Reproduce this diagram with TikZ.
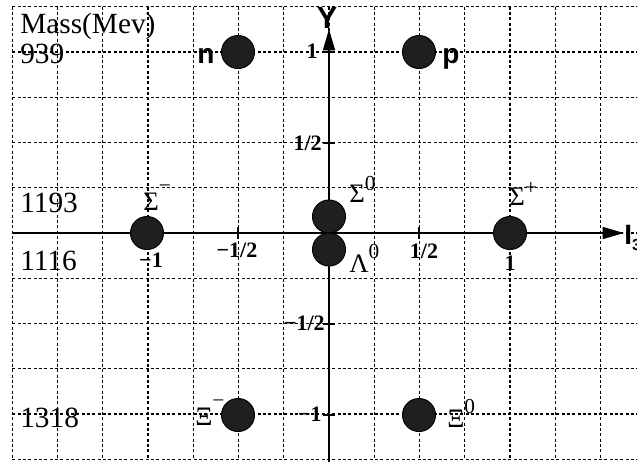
\documentclass[tikz,border=0pt]{standalone}
\usepackage{fontspec}
\setmainfont{Liberation Serif}
\newfontfamily\hsans{Liberation Sans}
\usetikzlibrary{arrows.meta}
\begin{document}
\begin{tikzpicture}[x=0.75pt,y=-0.75pt,
  gridline/.style={dash pattern=on 2.2pt off 1.8pt, line width=0.85pt, black},
  axis/.style={line width=1.1pt, -{Triangle[length=16pt,width=9pt]}},
  tickmark/.style={line width=0.9pt},
  particle/.style={circle, draw=black, fill=black!88, line width=0.7pt, minimum size=24.8pt, inner sep=0pt},
  mass/.style={font=\fontsize{22}{22}\selectfont, inner sep=0pt, anchor=base west},
  greek/.style={font=\fontsize{20}{20}\selectfont, inner sep=0pt, anchor=base west},
  ticklab/.style={font=\bfseries\fontsize{16.5}{16.5}\selectfont, inner sep=0pt},
  sanslab/.style={font=\hsans\bfseries\fontsize{21}{21}\selectfont, inner sep=0pt},
]
\useasboundingbox (0,0) rectangle (637,462);
\fill[white] (0,0) rectangle (637,462);
% grid
\foreach \k in {-7,...,6}
  \draw[gridline] ({329+45.25*\k},6.75) -- ({329+45.25*\k},459.25);
\foreach \k in {-5,...,5}
  \draw[gridline] (12.25,{233+45.25*\k}) -- (637,{233+45.25*\k});
% axes
\coordinate (xstart) at (12.25,233);
\coordinate (xend) at (624,233);
\coordinate (ystart) at (329,462);
\coordinate (yend) at (329,29);
\draw[axis] (xstart) -- (xend);
\draw[axis] (ystart) -- (yend);
% ticks
\foreach \yy in {52,143,324,415}
  \draw[tickmark] (323,\yy) -- (335,\yy);
\foreach \xx in {238,419}
  \draw[tickmark] (\xx,227) -- (\xx,239);
% axis labels
\node[sanslab, font=\hsans\bfseries\fontsize{23}{23}\selectfont, anchor=base] (ylab) at (327,28) {Y};
\node[sanslab, anchor=base west] (i3lab) at (624,244) {I\raisebox{-5pt}{\fontsize{12}{12}\selectfont 3}};
% tick labels
\node[ticklab, anchor=east] (ty1) at (318,51) {1};
\node[ticklab, anchor=east] (tyh) at (322,143.5) {1/2};
\node[ticklab, anchor=east] (tymh) at (325,323) {−1/2};
\node[ticklab, anchor=east] (tym1) at (322,414) {−1};
\node[ticklab] (txmh) at (237,250) {−1/2};
\node[ticklab] (txh) at (424,251) {1/2};
\node[ticklab] (tx1) at (510,263) {1};
\node[ticklab] (txm1) at (151,260) {−1};
% mass labels
\node[mass] (masstitle) at (20,33) {Mass(Mev)};
\node[mass] (m939) at (20,63) {939};
\node[mass] (m1193) at (20,212) {1193};
\node[mass] (m1116) at (20,270) {1116};
\node[mass] (m1318) at (20,427) {1318};
% particles
\node[particle] (n) at (238,52) {};
\node[particle] (p) at (419,52) {};
\node[particle] (sigm) at (147,233) {};
\node[particle] (sigp) at (510,233) {};
\node[particle] (sig0) at (329,216.5) {};
\node[particle] (lam0) at (329,249.5) {};
\node[particle] (xim) at (238,415) {};
\node[particle] (xi0) at (419,415) {};
% particle labels
\node[sanslab, anchor=base west] (nlab) at (197,63) {n};
\node[sanslab, anchor=base west] (plab) at (442,63) {p};
\node[greek] (sigmlab) at (143,210) {Σ\raisebox{13pt}{\fontsize{16}{16}\selectfont −}};
\node[greek] (sigplab) at (509,205) {Σ\raisebox{8pt}{\fontsize{16}{16}\selectfont +}};
\node[greek] (sig0lab) at (349,202) {Σ\raisebox{9pt}{\fontsize{16}{16}\selectfont 0}};
\node[greek] (lam0lab) at (349,272) {Λ\raisebox{10pt}{\fontsize{16}{16}\selectfont 0}};
\node[greek] (ximlab) at (195,425) {Ξ\raisebox{13pt}{\fontsize{16}{16}\selectfont −}};
\node[greek] (xi0lab) at (447,427) {Ξ\raisebox{10pt}{\fontsize{16}{16}\selectfont 0}};
\end{tikzpicture}
\end{document}
